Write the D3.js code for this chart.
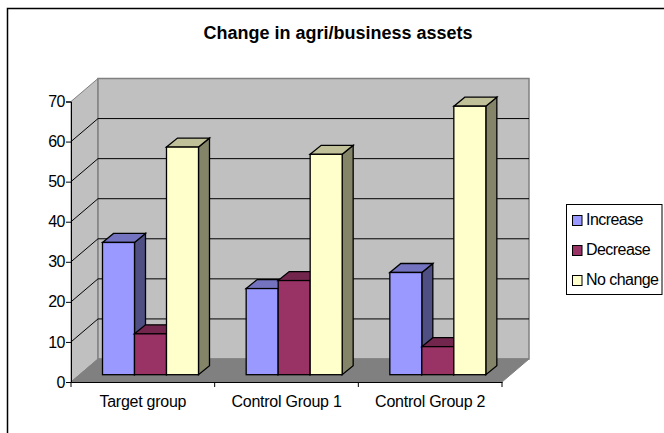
<!DOCTYPE html>
<html>
<head>
<meta charset="utf-8">
<script src="https://cdn.jsdelivr.net/npm/d3@7"></script>
<style>
html,body{margin:0;padding:0;background:#fff;}
svg{display:block;}
text{font-family:"Liberation Sans",Arial,sans-serif;fill:#000;}
</style>
</head>
<body>
<div class="canvas"></div>
<script>
// data
const categories = ['Target group','Control Group 1','Control Group 2'];
const seriesNames = ['Increase','Decrease','No change'];
const increase = [33,21.5,25.5];
const decrease = [10.2,23.5,7];
const noChange = [56.8,55,67];
const yTicks = [0,10,20,30,40,50,60,70];
const chartTitle = 'Change in agri/business assets';

const colors = ['#9999ff','#993366','#ffffcc'];
const width = 664, height = 433;

const svg = d3.select('.canvas')
.append('svg')
.attr('width',width)
.attr('height',height);

// outer frame
svg.append('rect')
.attr('x',7.5).attr('y',8.5)
.attr('width',width+10).attr('height',height+10)
.attr('fill','#fff').attr('stroke','#000').attr('stroke-width',1.5);

// scales for the front plane
const x = d3.scaleBand().domain(categories).range([71,502]);
const y = d3.scaleLinear().domain([0,70]).range([382,101.5]);

// depth of the box and of the bars
const depth = {x:27,y:23};
const barDepth = {x:11,y:9};
const shift = {x:8.5,y:7.3};
const series = d3.scaleBand().domain(seriesNames).range([0,96]);

const px = x.range();
const y0 = y(0), yTop = y(70);

// walls and floor
svg.append('polygon')
.attr('points',[[px[0],y0],[px[0]+depth.x,y0-depth.y],[px[0]+depth.x,yTop-depth.y],[px[0],yTop]].join(' '))
.attr('fill','#c0c0c0').attr('stroke','#808080');

svg.append('rect')
.attr('x',px[0]+depth.x).attr('y',yTop-depth.y)
.attr('width',px[1]-px[0]).attr('height',y0-yTop)
.attr('fill','#c0c0c0').attr('stroke','#808080').attr('stroke-width',1.5);

svg.append('polygon')
.attr('points',[[px[0],y0],[px[1],y0],[px[1]+depth.x,y0-depth.y],[px[0]+depth.x,y0-depth.y]].join(' '))
.attr('fill','#808080').attr('stroke','#808080');

// gridlines on both walls
const grid = svg.append('g').attr('class','grid');
yTicks.slice(1,-1).forEach(t => {
    grid.append('polyline')
    .attr('points',[[px[0],y(t)],[px[0]+depth.x,y(t)-depth.y],[px[1]+depth.x,y(t)-depth.y]].join(' '))
    .attr('fill','none')
    .attr('stroke','#000');
});

// axes
const yAxis = d3.axisLeft(y).tickValues(yTicks).tickSize(5).tickPadding(1).tickFormat(d3.format('d'));
const yAxisGroup = svg.append('g')
.attr('transform',`translate(${px[0]},0)`)
.call(yAxis);
yAxisGroup.selectAll('text').attr('font-size',16).attr('letter-spacing',-0.5);

const xAxis = d3.axisBottom(x).tickSize(0).tickPadding(14);
const xAxisGroup = svg.append('g')
.attr('transform',`translate(0,${y0})`)
.call(xAxis);
xAxisGroup.selectAll('text').attr('font-size',16).attr('letter-spacing',-0.25);
xAxisGroup.selectAll('.tick text').attr('dy','0.71em');
xAxisGroup.selectAll('.cat-tick')
.data(x.domain().map(d => x(d)).concat(px[1]))
.enter().append('line')
.attr('class','cat-tick')
.attr('x1',d => d).attr('x2',d => d)
.attr('y1',0).attr('y2',5)
.attr('stroke','#000');

// shade helper for the bar top and side
const shade = (c,k) => d3.rgb(c).darker(k).formatHex();

// bars, drawn back to front per category
const values = [increase,decrease,noChange];
const barHeight = d => y(0) - y(d);
const floorY = y0 - shift.y;

categories.forEach((cat,i) => {
    const g = svg.append('g').attr('transform',`translate(${x(cat)+31.5},0)`);
    seriesNames.forEach((name,s) => {
        const v = values[s][i];
        const x0 = series(name);
        const w = series.bandwidth();
        const top = floorY - barHeight(v);
        g.append('polygon')
        .attr('points',[[x0+w,top],[x0+w+barDepth.x,top-barDepth.y],[x0+w+barDepth.x,floorY-barDepth.y],[x0+w,floorY]].join(' '))
        .attr('fill',shade(colors[s],1.85))
        .attr('stroke','#000').attr('stroke-width',1.3);
        g.append('polygon')
        .attr('points',[[x0,top],[x0+barDepth.x,top-barDepth.y],[x0+w+barDepth.x,top-barDepth.y],[x0+w,top]].join(' '))
        .attr('fill',shade(colors[s],0.8))
        .attr('stroke','#000').attr('stroke-width',1.3);
        g.append('rect')
        .attr('x',x0).attr('y',top)
        .attr('width',w).attr('height',barHeight(v))
        .attr('fill',colors[s])
        .attr('stroke','#000').attr('stroke-width',1.3);
    });
});

// title
svg.append('text')
.attr('x',338).attr('y',39)
.attr('text-anchor','middle')
.attr('font-size',18)
.attr('font-weight','bold')
.text(chartTitle);

// legend
const legend = svg.append('g');
legend.append('rect')
.attr('x',566.5).attr('y',204.5)
.attr('width',95.5).attr('height',90)
.attr('fill','#fff').attr('stroke','#000');
seriesNames.forEach((name,s) => {
    const ly = 220 + s*30;
    legend.append('rect')
    .attr('x',572.5).attr('y',ly-4.5)
    .attr('width',9.5).attr('height',10)
    .attr('fill',colors[s]).attr('stroke','#000');
    legend.append('text')
    .attr('x',586).attr('y',ly+4.5)
    .attr('font-size',16)
    .attr('letter-spacing',-0.55)
    .text(name);
});
</script>
</body>
</html>
